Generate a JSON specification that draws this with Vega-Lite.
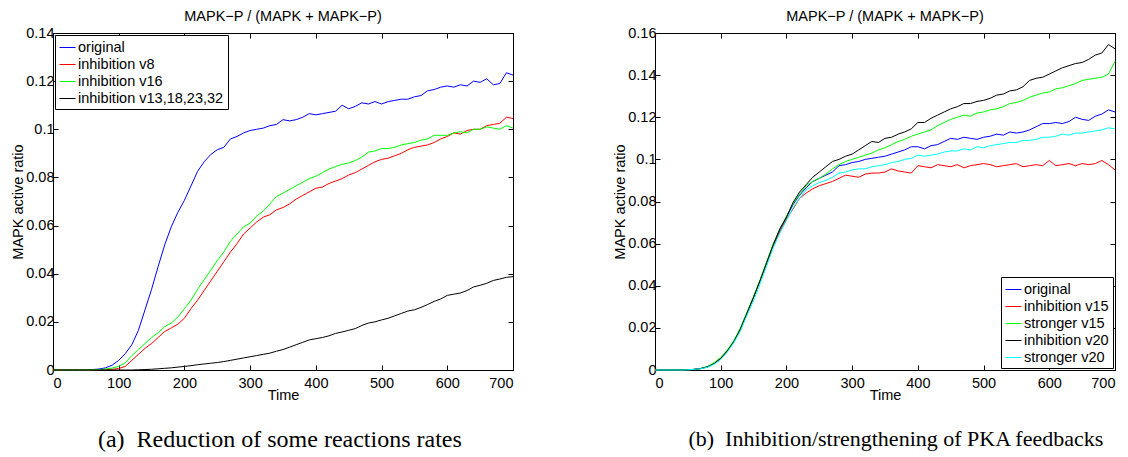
{
"$schema": "https://vega.github.io/schema/vega-lite/v6.json",
"background": "white",
"padding": {"left": 10, "top": 8, "right": 0, "bottom": 0},
"spacing": 96,
"resolve": {"scale": {"color": "independent"}, "legend": {"color": "independent"}},
"datasets": {
"a": [
{"s":"original","t":0,"v":0},{"s":"original","t":10,"v":0},{"s":"original","t":20,"v":0},{"s":"original","t":30,"v":0},{"s":"original","t":40,"v":0},{"s":"original","t":50,"v":0.0001},{"s":"original","t":60,"v":0.0002},{"s":"original","t":70,"v":0.0004},{"s":"original","t":80,"v":0.0009},{"s":"original","t":90,"v":0.002},{"s":"original","t":100,"v":0.004},{"s":"original","t":110,"v":0.0068},{"s":"original","t":120,"v":0.0105},{"s":"original","t":130,"v":0.0165},{"s":"original","t":140,"v":0.025},{"s":"original","t":150,"v":0.0335},{"s":"original","t":160,"v":0.043},{"s":"original","t":170,"v":0.052},{"s":"original","t":180,"v":0.0595},{"s":"original","t":190,"v":0.0655},{"s":"original","t":200,"v":0.0705},{"s":"original","t":210,"v":0.0765},{"s":"original","t":220,"v":0.0825},{"s":"original","t":230,"v":0.0865},{"s":"original","t":240,"v":0.0895},{"s":"original","t":250,"v":0.0915},{"s":"original","t":260,"v":0.0925},{"s":"original","t":270,"v":0.096},{"s":"original","t":280,"v":0.097},{"s":"original","t":290,"v":0.0985},{"s":"original","t":300,"v":0.0995},{"s":"original","t":310,"v":0.1},{"s":"original","t":320,"v":0.1005},{"s":"original","t":330,"v":0.1015},{"s":"original","t":340,"v":0.102},{"s":"original","t":350,"v":0.104},{"s":"original","t":360,"v":0.1035},{"s":"original","t":370,"v":0.104},{"s":"original","t":380,"v":0.105},{"s":"original","t":390,"v":0.1065},{"s":"original","t":400,"v":0.106},{"s":"original","t":410,"v":0.1065},{"s":"original","t":420,"v":0.107},{"s":"original","t":430,"v":0.1075},{"s":"original","t":440,"v":0.11},{"s":"original","t":450,"v":0.1085},{"s":"original","t":460,"v":0.1095},{"s":"original","t":470,"v":0.111},{"s":"original","t":480,"v":0.1105},{"s":"original","t":490,"v":0.1115},{"s":"original","t":500,"v":0.1105},{"s":"original","t":510,"v":0.1115},{"s":"original","t":520,"v":0.112},{"s":"original","t":530,"v":0.1125},{"s":"original","t":540,"v":0.1125},{"s":"original","t":550,"v":0.1135},{"s":"original","t":560,"v":0.114},{"s":"original","t":570,"v":0.116},{"s":"original","t":580,"v":0.1165},{"s":"original","t":590,"v":0.1175},{"s":"original","t":600,"v":0.118},{"s":"original","t":610,"v":0.1175},{"s":"original","t":620,"v":0.1185},{"s":"original","t":630,"v":0.118},{"s":"original","t":640,"v":0.12},{"s":"original","t":650,"v":0.1195},{"s":"original","t":660,"v":0.121},{"s":"original","t":670,"v":0.1185},{"s":"original","t":680,"v":0.119},{"s":"original","t":690,"v":0.1235},{"s":"original","t":700,"v":0.1225},
{"s":"inhibition v8","t":0,"v":0},{"s":"inhibition v8","t":10,"v":0},{"s":"inhibition v8","t":20,"v":0},{"s":"inhibition v8","t":30,"v":0},{"s":"inhibition v8","t":40,"v":0},{"s":"inhibition v8","t":50,"v":0},{"s":"inhibition v8","t":60,"v":0},{"s":"inhibition v8","t":70,"v":0.0001},{"s":"inhibition v8","t":80,"v":0.0002},{"s":"inhibition v8","t":90,"v":0.0003},{"s":"inhibition v8","t":100,"v":0.0006},{"s":"inhibition v8","t":110,"v":0.0015},{"s":"inhibition v8","t":120,"v":0.004},{"s":"inhibition v8","t":130,"v":0.0065},{"s":"inhibition v8","t":140,"v":0.009},{"s":"inhibition v8","t":150,"v":0.011},{"s":"inhibition v8","t":160,"v":0.0135},{"s":"inhibition v8","t":170,"v":0.016},{"s":"inhibition v8","t":180,"v":0.0175},{"s":"inhibition v8","t":190,"v":0.019},{"s":"inhibition v8","t":200,"v":0.0215},{"s":"inhibition v8","t":210,"v":0.0255},{"s":"inhibition v8","t":220,"v":0.029},{"s":"inhibition v8","t":230,"v":0.033},{"s":"inhibition v8","t":240,"v":0.037},{"s":"inhibition v8","t":250,"v":0.041},{"s":"inhibition v8","t":260,"v":0.045},{"s":"inhibition v8","t":270,"v":0.049},{"s":"inhibition v8","t":280,"v":0.0525},{"s":"inhibition v8","t":290,"v":0.0565},{"s":"inhibition v8","t":300,"v":0.059},{"s":"inhibition v8","t":310,"v":0.0615},{"s":"inhibition v8","t":320,"v":0.0635},{"s":"inhibition v8","t":330,"v":0.0645},{"s":"inhibition v8","t":340,"v":0.0665},{"s":"inhibition v8","t":350,"v":0.0675},{"s":"inhibition v8","t":360,"v":0.069},{"s":"inhibition v8","t":370,"v":0.071},{"s":"inhibition v8","t":380,"v":0.0725},{"s":"inhibition v8","t":390,"v":0.074},{"s":"inhibition v8","t":400,"v":0.0755},{"s":"inhibition v8","t":410,"v":0.076},{"s":"inhibition v8","t":420,"v":0.0775},{"s":"inhibition v8","t":430,"v":0.0785},{"s":"inhibition v8","t":440,"v":0.0795},{"s":"inhibition v8","t":450,"v":0.081},{"s":"inhibition v8","t":460,"v":0.082},{"s":"inhibition v8","t":470,"v":0.0835},{"s":"inhibition v8","t":480,"v":0.085},{"s":"inhibition v8","t":490,"v":0.0865},{"s":"inhibition v8","t":500,"v":0.0875},{"s":"inhibition v8","t":510,"v":0.088},{"s":"inhibition v8","t":520,"v":0.089},{"s":"inhibition v8","t":530,"v":0.09},{"s":"inhibition v8","t":540,"v":0.0915},{"s":"inhibition v8","t":550,"v":0.0925},{"s":"inhibition v8","t":560,"v":0.093},{"s":"inhibition v8","t":570,"v":0.0935},{"s":"inhibition v8","t":580,"v":0.0945},{"s":"inhibition v8","t":590,"v":0.096},{"s":"inhibition v8","t":600,"v":0.097},{"s":"inhibition v8","t":610,"v":0.0985},{"s":"inhibition v8","t":620,"v":0.098},{"s":"inhibition v8","t":630,"v":0.0995},{"s":"inhibition v8","t":640,"v":0.1},{"s":"inhibition v8","t":650,"v":0.1},{"s":"inhibition v8","t":660,"v":0.1015},{"s":"inhibition v8","t":670,"v":0.102},{"s":"inhibition v8","t":680,"v":0.1025},{"s":"inhibition v8","t":690,"v":0.105},{"s":"inhibition v8","t":700,"v":0.1045},
{"s":"inhibition v16","t":0,"v":0},{"s":"inhibition v16","t":10,"v":0},{"s":"inhibition v16","t":20,"v":0},{"s":"inhibition v16","t":30,"v":0},{"s":"inhibition v16","t":40,"v":0},{"s":"inhibition v16","t":50,"v":0},{"s":"inhibition v16","t":60,"v":0.0001},{"s":"inhibition v16","t":70,"v":0.0002},{"s":"inhibition v16","t":80,"v":0.0004},{"s":"inhibition v16","t":90,"v":0.0008},{"s":"inhibition v16","t":100,"v":0.0015},{"s":"inhibition v16","t":110,"v":0.003},{"s":"inhibition v16","t":120,"v":0.006},{"s":"inhibition v16","t":130,"v":0.0085},{"s":"inhibition v16","t":140,"v":0.011},{"s":"inhibition v16","t":150,"v":0.0135},{"s":"inhibition v16","t":160,"v":0.0155},{"s":"inhibition v16","t":170,"v":0.018},{"s":"inhibition v16","t":180,"v":0.0195},{"s":"inhibition v16","t":190,"v":0.022},{"s":"inhibition v16","t":200,"v":0.0255},{"s":"inhibition v16","t":210,"v":0.029},{"s":"inhibition v16","t":220,"v":0.0335},{"s":"inhibition v16","t":230,"v":0.0375},{"s":"inhibition v16","t":240,"v":0.0415},{"s":"inhibition v16","t":250,"v":0.0455},{"s":"inhibition v16","t":260,"v":0.049},{"s":"inhibition v16","t":270,"v":0.0535},{"s":"inhibition v16","t":280,"v":0.0565},{"s":"inhibition v16","t":290,"v":0.0595},{"s":"inhibition v16","t":300,"v":0.061},{"s":"inhibition v16","t":310,"v":0.064},{"s":"inhibition v16","t":320,"v":0.066},{"s":"inhibition v16","t":330,"v":0.069},{"s":"inhibition v16","t":340,"v":0.072},{"s":"inhibition v16","t":350,"v":0.0735},{"s":"inhibition v16","t":360,"v":0.075},{"s":"inhibition v16","t":370,"v":0.0765},{"s":"inhibition v16","t":380,"v":0.078},{"s":"inhibition v16","t":390,"v":0.0795},{"s":"inhibition v16","t":400,"v":0.0805},{"s":"inhibition v16","t":410,"v":0.082},{"s":"inhibition v16","t":420,"v":0.0835},{"s":"inhibition v16","t":430,"v":0.0845},{"s":"inhibition v16","t":440,"v":0.0855},{"s":"inhibition v16","t":450,"v":0.086},{"s":"inhibition v16","t":460,"v":0.087},{"s":"inhibition v16","t":470,"v":0.0885},{"s":"inhibition v16","t":480,"v":0.0905},{"s":"inhibition v16","t":490,"v":0.091},{"s":"inhibition v16","t":500,"v":0.092},{"s":"inhibition v16","t":510,"v":0.092},{"s":"inhibition v16","t":520,"v":0.0925},{"s":"inhibition v16","t":530,"v":0.0935},{"s":"inhibition v16","t":540,"v":0.094},{"s":"inhibition v16","t":550,"v":0.0945},{"s":"inhibition v16","t":560,"v":0.0955},{"s":"inhibition v16","t":570,"v":0.096},{"s":"inhibition v16","t":580,"v":0.0975},{"s":"inhibition v16","t":590,"v":0.0975},{"s":"inhibition v16","t":600,"v":0.0975},{"s":"inhibition v16","t":610,"v":0.0985},{"s":"inhibition v16","t":620,"v":0.099},{"s":"inhibition v16","t":630,"v":0.0985},{"s":"inhibition v16","t":640,"v":0.1},{"s":"inhibition v16","t":650,"v":0.1},{"s":"inhibition v16","t":660,"v":0.101},{"s":"inhibition v16","t":670,"v":0.1005},{"s":"inhibition v16","t":680,"v":0.1},{"s":"inhibition v16","t":690,"v":0.1015},{"s":"inhibition v16","t":700,"v":0.1005},
{"s":"inhibition v13,18,23,32","t":0,"v":0},{"s":"inhibition v13,18,23,32","t":10,"v":0},{"s":"inhibition v13,18,23,32","t":20,"v":0},{"s":"inhibition v13,18,23,32","t":30,"v":0},{"s":"inhibition v13,18,23,32","t":40,"v":0},{"s":"inhibition v13,18,23,32","t":50,"v":0},{"s":"inhibition v13,18,23,32","t":60,"v":0},{"s":"inhibition v13,18,23,32","t":70,"v":0},{"s":"inhibition v13,18,23,32","t":80,"v":0},{"s":"inhibition v13,18,23,32","t":90,"v":0},{"s":"inhibition v13,18,23,32","t":100,"v":0},{"s":"inhibition v13,18,23,32","t":110,"v":0},{"s":"inhibition v13,18,23,32","t":120,"v":0},{"s":"inhibition v13,18,23,32","t":130,"v":0.0001},{"s":"inhibition v13,18,23,32","t":140,"v":0.0002},{"s":"inhibition v13,18,23,32","t":150,"v":0.0003},{"s":"inhibition v13,18,23,32","t":160,"v":0.0005},{"s":"inhibition v13,18,23,32","t":170,"v":0.0007},{"s":"inhibition v13,18,23,32","t":180,"v":0.0009},{"s":"inhibition v13,18,23,32","t":190,"v":0.0012},{"s":"inhibition v13,18,23,32","t":200,"v":0.0015},{"s":"inhibition v13,18,23,32","t":210,"v":0.0018},{"s":"inhibition v13,18,23,32","t":220,"v":0.0022},{"s":"inhibition v13,18,23,32","t":230,"v":0.0025},{"s":"inhibition v13,18,23,32","t":240,"v":0.0028},{"s":"inhibition v13,18,23,32","t":250,"v":0.0031},{"s":"inhibition v13,18,23,32","t":260,"v":0.0035},{"s":"inhibition v13,18,23,32","t":270,"v":0.004},{"s":"inhibition v13,18,23,32","t":280,"v":0.0045},{"s":"inhibition v13,18,23,32","t":290,"v":0.005},{"s":"inhibition v13,18,23,32","t":300,"v":0.0055},{"s":"inhibition v13,18,23,32","t":310,"v":0.006},{"s":"inhibition v13,18,23,32","t":320,"v":0.0065},{"s":"inhibition v13,18,23,32","t":330,"v":0.007},{"s":"inhibition v13,18,23,32","t":340,"v":0.0078},{"s":"inhibition v13,18,23,32","t":350,"v":0.0085},{"s":"inhibition v13,18,23,32","t":360,"v":0.0095},{"s":"inhibition v13,18,23,32","t":370,"v":0.0105},{"s":"inhibition v13,18,23,32","t":380,"v":0.0115},{"s":"inhibition v13,18,23,32","t":390,"v":0.0125},{"s":"inhibition v13,18,23,32","t":400,"v":0.013},{"s":"inhibition v13,18,23,32","t":410,"v":0.0135},{"s":"inhibition v13,18,23,32","t":420,"v":0.0142},{"s":"inhibition v13,18,23,32","t":430,"v":0.0152},{"s":"inhibition v13,18,23,32","t":440,"v":0.0158},{"s":"inhibition v13,18,23,32","t":450,"v":0.0165},{"s":"inhibition v13,18,23,32","t":460,"v":0.0172},{"s":"inhibition v13,18,23,32","t":470,"v":0.0185},{"s":"inhibition v13,18,23,32","t":480,"v":0.0195},{"s":"inhibition v13,18,23,32","t":490,"v":0.02},{"s":"inhibition v13,18,23,32","t":500,"v":0.0208},{"s":"inhibition v13,18,23,32","t":510,"v":0.0215},{"s":"inhibition v13,18,23,32","t":520,"v":0.0225},{"s":"inhibition v13,18,23,32","t":530,"v":0.0235},{"s":"inhibition v13,18,23,32","t":540,"v":0.0245},{"s":"inhibition v13,18,23,32","t":550,"v":0.025},{"s":"inhibition v13,18,23,32","t":560,"v":0.026},{"s":"inhibition v13,18,23,32","t":570,"v":0.0272},{"s":"inhibition v13,18,23,32","t":580,"v":0.0285},{"s":"inhibition v13,18,23,32","t":590,"v":0.0295},{"s":"inhibition v13,18,23,32","t":600,"v":0.031},{"s":"inhibition v13,18,23,32","t":610,"v":0.0315},{"s":"inhibition v13,18,23,32","t":620,"v":0.032},{"s":"inhibition v13,18,23,32","t":630,"v":0.033},{"s":"inhibition v13,18,23,32","t":640,"v":0.0345},{"s":"inhibition v13,18,23,32","t":650,"v":0.0352},{"s":"inhibition v13,18,23,32","t":660,"v":0.036},{"s":"inhibition v13,18,23,32","t":670,"v":0.0372},{"s":"inhibition v13,18,23,32","t":680,"v":0.0378},{"s":"inhibition v13,18,23,32","t":690,"v":0.0385},{"s":"inhibition v13,18,23,32","t":700,"v":0.0388}
],
"b": [
{"s":"original","t":0,"v":0},{"s":"original","t":10,"v":0},{"s":"original","t":20,"v":0},{"s":"original","t":30,"v":0},{"s":"original","t":40,"v":0},{"s":"original","t":50,"v":0.0001},{"s":"original","t":60,"v":0.0003},{"s":"original","t":70,"v":0.0007},{"s":"original","t":80,"v":0.0015},{"s":"original","t":90,"v":0.003},{"s":"original","t":100,"v":0.0055},{"s":"original","t":110,"v":0.009},{"s":"original","t":120,"v":0.0135},{"s":"original","t":130,"v":0.0195},{"s":"original","t":140,"v":0.027},{"s":"original","t":150,"v":0.0345},{"s":"original","t":160,"v":0.0425},{"s":"original","t":170,"v":0.051},{"s":"original","t":180,"v":0.0595},{"s":"original","t":190,"v":0.0665},{"s":"original","t":200,"v":0.0725},{"s":"original","t":210,"v":0.0785},{"s":"original","t":220,"v":0.083},{"s":"original","t":230,"v":0.0865},{"s":"original","t":240,"v":0.0895},{"s":"original","t":250,"v":0.091},{"s":"original","t":260,"v":0.0925},{"s":"original","t":270,"v":0.094},{"s":"original","t":280,"v":0.097},{"s":"original","t":290,"v":0.0975},{"s":"original","t":300,"v":0.0985},{"s":"original","t":310,"v":0.099},{"s":"original","t":320,"v":0.1},{"s":"original","t":330,"v":0.1005},{"s":"original","t":340,"v":0.101},{"s":"original","t":350,"v":0.1015},{"s":"original","t":360,"v":0.1025},{"s":"original","t":370,"v":0.1035},{"s":"original","t":380,"v":0.1045},{"s":"original","t":390,"v":0.106},{"s":"original","t":400,"v":0.106},{"s":"original","t":410,"v":0.105},{"s":"original","t":420,"v":0.1065},{"s":"original","t":430,"v":0.107},{"s":"original","t":440,"v":0.1085},{"s":"original","t":450,"v":0.11},{"s":"original","t":460,"v":0.1095},{"s":"original","t":470,"v":0.1105},{"s":"original","t":480,"v":0.11},{"s":"original","t":490,"v":0.1095},{"s":"original","t":500,"v":0.1105},{"s":"original","t":510,"v":0.111},{"s":"original","t":520,"v":0.112},{"s":"original","t":530,"v":0.1115},{"s":"original","t":540,"v":0.113},{"s":"original","t":550,"v":0.1125},{"s":"original","t":560,"v":0.113},{"s":"original","t":570,"v":0.114},{"s":"original","t":580,"v":0.1155},{"s":"original","t":590,"v":0.117},{"s":"original","t":600,"v":0.117},{"s":"original","t":610,"v":0.1175},{"s":"original","t":620,"v":0.117},{"s":"original","t":630,"v":0.118},{"s":"original","t":640,"v":0.12},{"s":"original","t":650,"v":0.119},{"s":"original","t":660,"v":0.1185},{"s":"original","t":670,"v":0.1205},{"s":"original","t":680,"v":0.1215},{"s":"original","t":690,"v":0.1235},{"s":"original","t":700,"v":0.1225},
{"s":"inhibition v15","t":0,"v":0},{"s":"inhibition v15","t":10,"v":0},{"s":"inhibition v15","t":20,"v":0},{"s":"inhibition v15","t":30,"v":0},{"s":"inhibition v15","t":40,"v":0},{"s":"inhibition v15","t":50,"v":0.0001},{"s":"inhibition v15","t":60,"v":0.0003},{"s":"inhibition v15","t":70,"v":0.0007},{"s":"inhibition v15","t":80,"v":0.0015},{"s":"inhibition v15","t":90,"v":0.003},{"s":"inhibition v15","t":100,"v":0.0055},{"s":"inhibition v15","t":110,"v":0.009},{"s":"inhibition v15","t":120,"v":0.0135},{"s":"inhibition v15","t":130,"v":0.0195},{"s":"inhibition v15","t":140,"v":0.027},{"s":"inhibition v15","t":150,"v":0.0345},{"s":"inhibition v15","t":160,"v":0.0425},{"s":"inhibition v15","t":170,"v":0.0505},{"s":"inhibition v15","t":180,"v":0.059},{"s":"inhibition v15","t":190,"v":0.0655},{"s":"inhibition v15","t":200,"v":0.0715},{"s":"inhibition v15","t":210,"v":0.0765},{"s":"inhibition v15","t":220,"v":0.0815},{"s":"inhibition v15","t":230,"v":0.084},{"s":"inhibition v15","t":240,"v":0.086},{"s":"inhibition v15","t":250,"v":0.0875},{"s":"inhibition v15","t":260,"v":0.0885},{"s":"inhibition v15","t":270,"v":0.0895},{"s":"inhibition v15","t":280,"v":0.091},{"s":"inhibition v15","t":290,"v":0.0925},{"s":"inhibition v15","t":300,"v":0.092},{"s":"inhibition v15","t":310,"v":0.0915},{"s":"inhibition v15","t":320,"v":0.093},{"s":"inhibition v15","t":330,"v":0.0935},{"s":"inhibition v15","t":340,"v":0.0935},{"s":"inhibition v15","t":350,"v":0.094},{"s":"inhibition v15","t":360,"v":0.0955},{"s":"inhibition v15","t":370,"v":0.0945},{"s":"inhibition v15","t":380,"v":0.094},{"s":"inhibition v15","t":390,"v":0.0935},{"s":"inhibition v15","t":400,"v":0.097},{"s":"inhibition v15","t":410,"v":0.0965},{"s":"inhibition v15","t":420,"v":0.096},{"s":"inhibition v15","t":430,"v":0.0975},{"s":"inhibition v15","t":440,"v":0.097},{"s":"inhibition v15","t":450,"v":0.0965},{"s":"inhibition v15","t":460,"v":0.0975},{"s":"inhibition v15","t":470,"v":0.096},{"s":"inhibition v15","t":480,"v":0.097},{"s":"inhibition v15","t":490,"v":0.0975},{"s":"inhibition v15","t":500,"v":0.098},{"s":"inhibition v15","t":510,"v":0.0975},{"s":"inhibition v15","t":520,"v":0.0965},{"s":"inhibition v15","t":530,"v":0.097},{"s":"inhibition v15","t":540,"v":0.0975},{"s":"inhibition v15","t":550,"v":0.098},{"s":"inhibition v15","t":560,"v":0.0965},{"s":"inhibition v15","t":570,"v":0.097},{"s":"inhibition v15","t":580,"v":0.0975},{"s":"inhibition v15","t":590,"v":0.097},{"s":"inhibition v15","t":600,"v":0.0995},{"s":"inhibition v15","t":610,"v":0.097},{"s":"inhibition v15","t":620,"v":0.0975},{"s":"inhibition v15","t":630,"v":0.098},{"s":"inhibition v15","t":640,"v":0.097},{"s":"inhibition v15","t":650,"v":0.098},{"s":"inhibition v15","t":660,"v":0.0975},{"s":"inhibition v15","t":670,"v":0.098},{"s":"inhibition v15","t":680,"v":0.0995},{"s":"inhibition v15","t":690,"v":0.0975},{"s":"inhibition v15","t":700,"v":0.095},
{"s":"stronger v15","t":0,"v":0},{"s":"stronger v15","t":10,"v":0},{"s":"stronger v15","t":20,"v":0},{"s":"stronger v15","t":30,"v":0},{"s":"stronger v15","t":40,"v":0},{"s":"stronger v15","t":50,"v":0.0001},{"s":"stronger v15","t":60,"v":0.0003},{"s":"stronger v15","t":70,"v":0.0008},{"s":"stronger v15","t":80,"v":0.0017},{"s":"stronger v15","t":90,"v":0.0035},{"s":"stronger v15","t":100,"v":0.006},{"s":"stronger v15","t":110,"v":0.0095},{"s":"stronger v15","t":120,"v":0.014},{"s":"stronger v15","t":130,"v":0.02},{"s":"stronger v15","t":140,"v":0.0275},{"s":"stronger v15","t":150,"v":0.035},{"s":"stronger v15","t":160,"v":0.043},{"s":"stronger v15","t":170,"v":0.0515},{"s":"stronger v15","t":180,"v":0.06},{"s":"stronger v15","t":190,"v":0.067},{"s":"stronger v15","t":200,"v":0.073},{"s":"stronger v15","t":210,"v":0.079},{"s":"stronger v15","t":220,"v":0.0835},{"s":"stronger v15","t":230,"v":0.0875},{"s":"stronger v15","t":240,"v":0.0895},{"s":"stronger v15","t":250,"v":0.091},{"s":"stronger v15","t":260,"v":0.093},{"s":"stronger v15","t":270,"v":0.0955},{"s":"stronger v15","t":280,"v":0.0975},{"s":"stronger v15","t":290,"v":0.099},{"s":"stronger v15","t":300,"v":0.1},{"s":"stronger v15","t":310,"v":0.101},{"s":"stronger v15","t":320,"v":0.102},{"s":"stronger v15","t":330,"v":0.103},{"s":"stronger v15","t":340,"v":0.1045},{"s":"stronger v15","t":350,"v":0.1055},{"s":"stronger v15","t":360,"v":0.107},{"s":"stronger v15","t":370,"v":0.1085},{"s":"stronger v15","t":380,"v":0.1095},{"s":"stronger v15","t":390,"v":0.111},{"s":"stronger v15","t":400,"v":0.112},{"s":"stronger v15","t":410,"v":0.113},{"s":"stronger v15","t":420,"v":0.114},{"s":"stronger v15","t":430,"v":0.116},{"s":"stronger v15","t":440,"v":0.1175},{"s":"stronger v15","t":450,"v":0.119},{"s":"stronger v15","t":460,"v":0.12},{"s":"stronger v15","t":470,"v":0.121},{"s":"stronger v15","t":480,"v":0.1205},{"s":"stronger v15","t":490,"v":0.122},{"s":"stronger v15","t":500,"v":0.1225},{"s":"stronger v15","t":510,"v":0.1235},{"s":"stronger v15","t":520,"v":0.124},{"s":"stronger v15","t":530,"v":0.125},{"s":"stronger v15","t":540,"v":0.1265},{"s":"stronger v15","t":550,"v":0.127},{"s":"stronger v15","t":560,"v":0.128},{"s":"stronger v15","t":570,"v":0.1295},{"s":"stronger v15","t":580,"v":0.1305},{"s":"stronger v15","t":590,"v":0.1315},{"s":"stronger v15","t":600,"v":0.132},{"s":"stronger v15","t":610,"v":0.1335},{"s":"stronger v15","t":620,"v":0.134},{"s":"stronger v15","t":630,"v":0.135},{"s":"stronger v15","t":640,"v":0.136},{"s":"stronger v15","t":650,"v":0.1375},{"s":"stronger v15","t":660,"v":0.138},{"s":"stronger v15","t":670,"v":0.1385},{"s":"stronger v15","t":680,"v":0.139},{"s":"stronger v15","t":690,"v":0.1405},{"s":"stronger v15","t":700,"v":0.1465},
{"s":"inhibition v20","t":0,"v":0},{"s":"inhibition v20","t":10,"v":0},{"s":"inhibition v20","t":20,"v":0},{"s":"inhibition v20","t":30,"v":0},{"s":"inhibition v20","t":40,"v":0},{"s":"inhibition v20","t":50,"v":0.0001},{"s":"inhibition v20","t":60,"v":0.0003},{"s":"inhibition v20","t":70,"v":0.0007},{"s":"inhibition v20","t":80,"v":0.0015},{"s":"inhibition v20","t":90,"v":0.003},{"s":"inhibition v20","t":100,"v":0.0055},{"s":"inhibition v20","t":110,"v":0.009},{"s":"inhibition v20","t":120,"v":0.0135},{"s":"inhibition v20","t":130,"v":0.0195},{"s":"inhibition v20","t":140,"v":0.027},{"s":"inhibition v20","t":150,"v":0.0345},{"s":"inhibition v20","t":160,"v":0.0425},{"s":"inhibition v20","t":170,"v":0.051},{"s":"inhibition v20","t":180,"v":0.0595},{"s":"inhibition v20","t":190,"v":0.067},{"s":"inhibition v20","t":200,"v":0.0725},{"s":"inhibition v20","t":210,"v":0.0795},{"s":"inhibition v20","t":220,"v":0.0845},{"s":"inhibition v20","t":230,"v":0.088},{"s":"inhibition v20","t":240,"v":0.0915},{"s":"inhibition v20","t":250,"v":0.094},{"s":"inhibition v20","t":260,"v":0.0965},{"s":"inhibition v20","t":270,"v":0.099},{"s":"inhibition v20","t":280,"v":0.1},{"s":"inhibition v20","t":290,"v":0.1015},{"s":"inhibition v20","t":300,"v":0.1025},{"s":"inhibition v20","t":310,"v":0.1045},{"s":"inhibition v20","t":320,"v":0.1065},{"s":"inhibition v20","t":330,"v":0.1085},{"s":"inhibition v20","t":340,"v":0.108},{"s":"inhibition v20","t":350,"v":0.11},{"s":"inhibition v20","t":360,"v":0.1105},{"s":"inhibition v20","t":370,"v":0.112},{"s":"inhibition v20","t":380,"v":0.113},{"s":"inhibition v20","t":390,"v":0.1145},{"s":"inhibition v20","t":400,"v":0.1175},{"s":"inhibition v20","t":410,"v":0.1175},{"s":"inhibition v20","t":420,"v":0.1195},{"s":"inhibition v20","t":430,"v":0.121},{"s":"inhibition v20","t":440,"v":0.1225},{"s":"inhibition v20","t":450,"v":0.124},{"s":"inhibition v20","t":460,"v":0.125},{"s":"inhibition v20","t":470,"v":0.1265},{"s":"inhibition v20","t":480,"v":0.1265},{"s":"inhibition v20","t":490,"v":0.1275},{"s":"inhibition v20","t":500,"v":0.128},{"s":"inhibition v20","t":510,"v":0.129},{"s":"inhibition v20","t":520,"v":0.1305},{"s":"inhibition v20","t":530,"v":0.131},{"s":"inhibition v20","t":540,"v":0.1325},{"s":"inhibition v20","t":550,"v":0.133},{"s":"inhibition v20","t":560,"v":0.1345},{"s":"inhibition v20","t":570,"v":0.1375},{"s":"inhibition v20","t":580,"v":0.1385},{"s":"inhibition v20","t":590,"v":0.139},{"s":"inhibition v20","t":600,"v":0.1405},{"s":"inhibition v20","t":610,"v":0.142},{"s":"inhibition v20","t":620,"v":0.1435},{"s":"inhibition v20","t":630,"v":0.1445},{"s":"inhibition v20","t":640,"v":0.1455},{"s":"inhibition v20","t":650,"v":0.146},{"s":"inhibition v20","t":660,"v":0.1475},{"s":"inhibition v20","t":670,"v":0.1495},{"s":"inhibition v20","t":680,"v":0.1505},{"s":"inhibition v20","t":690,"v":0.1545},{"s":"inhibition v20","t":700,"v":0.1525},
{"s":"stronger v20","t":0,"v":0},{"s":"stronger v20","t":10,"v":0},{"s":"stronger v20","t":20,"v":0},{"s":"stronger v20","t":30,"v":0},{"s":"stronger v20","t":40,"v":0},{"s":"stronger v20","t":50,"v":0.0001},{"s":"stronger v20","t":60,"v":0.0003},{"s":"stronger v20","t":70,"v":0.0006},{"s":"stronger v20","t":80,"v":0.0013},{"s":"stronger v20","t":90,"v":0.0027},{"s":"stronger v20","t":100,"v":0.005},{"s":"stronger v20","t":110,"v":0.0085},{"s":"stronger v20","t":120,"v":0.013},{"s":"stronger v20","t":130,"v":0.0185},{"s":"stronger v20","t":140,"v":0.026},{"s":"stronger v20","t":150,"v":0.033},{"s":"stronger v20","t":160,"v":0.041},{"s":"stronger v20","t":170,"v":0.0495},{"s":"stronger v20","t":180,"v":0.058},{"s":"stronger v20","t":190,"v":0.065},{"s":"stronger v20","t":200,"v":0.071},{"s":"stronger v20","t":210,"v":0.077},{"s":"stronger v20","t":220,"v":0.0815},{"s":"stronger v20","t":230,"v":0.0855},{"s":"stronger v20","t":240,"v":0.0875},{"s":"stronger v20","t":250,"v":0.089},{"s":"stronger v20","t":260,"v":0.09},{"s":"stronger v20","t":270,"v":0.0915},{"s":"stronger v20","t":280,"v":0.0935},{"s":"stronger v20","t":290,"v":0.094},{"s":"stronger v20","t":300,"v":0.095},{"s":"stronger v20","t":310,"v":0.0955},{"s":"stronger v20","t":320,"v":0.0955},{"s":"stronger v20","t":330,"v":0.0965},{"s":"stronger v20","t":340,"v":0.097},{"s":"stronger v20","t":350,"v":0.0975},{"s":"stronger v20","t":360,"v":0.0985},{"s":"stronger v20","t":370,"v":0.099},{"s":"stronger v20","t":380,"v":0.1},{"s":"stronger v20","t":390,"v":0.1005},{"s":"stronger v20","t":400,"v":0.102},{"s":"stronger v20","t":410,"v":0.1015},{"s":"stronger v20","t":420,"v":0.102},{"s":"stronger v20","t":430,"v":0.1025},{"s":"stronger v20","t":440,"v":0.1035},{"s":"stronger v20","t":450,"v":0.104},{"s":"stronger v20","t":460,"v":0.104},{"s":"stronger v20","t":470,"v":0.105},{"s":"stronger v20","t":480,"v":0.1045},{"s":"stronger v20","t":490,"v":0.106},{"s":"stronger v20","t":500,"v":0.1055},{"s":"stronger v20","t":510,"v":0.1065},{"s":"stronger v20","t":520,"v":0.107},{"s":"stronger v20","t":530,"v":0.1075},{"s":"stronger v20","t":540,"v":0.108},{"s":"stronger v20","t":550,"v":0.108},{"s":"stronger v20","t":560,"v":0.109},{"s":"stronger v20","t":570,"v":0.109},{"s":"stronger v20","t":580,"v":0.1095},{"s":"stronger v20","t":590,"v":0.1105},{"s":"stronger v20","t":600,"v":0.1105},{"s":"stronger v20","t":610,"v":0.111},{"s":"stronger v20","t":620,"v":0.112},{"s":"stronger v20","t":630,"v":0.1115},{"s":"stronger v20","t":640,"v":0.1125},{"s":"stronger v20","t":650,"v":0.1125},{"s":"stronger v20","t":660,"v":0.113},{"s":"stronger v20","t":670,"v":0.1135},{"s":"stronger v20","t":680,"v":0.114},{"s":"stronger v20","t":690,"v":0.115},{"s":"stronger v20","t":700,"v":0.1145}
]
},
"hconcat": [
{
"title": {"text": "(a)\u00a0\u00a0Reduction of some reactions rates", "orient": "bottom", "anchor": "middle", "dx": 17, "font": "Liberation Serif", "fontSize": 24, "fontWeight": "normal", "color": "#000", "offset": 25},
"resolve": {"scale": {"color": "independent"}, "legend": {"color": "independent"}},
"vconcat": [
{
"title": {"text": "MAPK\u2212P / (MAPK + MAPK\u2212P)", "offset": 1},
"width": 460, "height": 337,
"layer": [
{"data": {"name": "a"},
"mark": {"type": "line", "strokeWidth": 1},
"encoding": {
"x": {"field": "t", "type": "quantitative", "scale": {"domain": [0, 700], "nice": false}, "axis": {"values": [0,100,200,300,400,500,600,700], "title": "Time", "labelPadding": 11, "titlePadding": -1}},
"y": {"field": "v", "type": "quantitative", "scale": {"domain": [0, 0.14], "nice": false}, "axis": {"values": [0,0.02,0.04,0.06,0.08,0.1,0.12,0.14], "format": ".2~f", "title": "MAPK active ratio", "labelPadding": 4, "titlePadding": 0}},
"color": {"field": "s", "type": "nominal", "sort": null, "scale": {"domain": ["original","inhibition v8","inhibition v16","inhibition v13,18,23,32"], "range": ["#0000ff","#ff0000","#00ff00","#000000"]}, "legend": {"orient": "top-left", "offset": 2}}
}},
{"data": {"values": [{"t": 0, "v": 0}]},
"mark": {"type": "point", "opacity": 0},
"encoding": {
"x": {"field": "t", "type": "quantitative", "axis": {"orient": "top", "values": [0,100,200,300,400,500,600,700], "labels": false, "title": null}},
"y": {"field": "v", "type": "quantitative", "axis": {"orient": "right", "values": [0,0.02,0.04,0.06,0.08,0.1,0.12,0.14], "labels": false, "title": null}}
}}
],
"resolve": {"axis": {"x": "independent", "y": "independent"}}
}
]
},
{
"title": {"text": "(b)\u00a0\u00a0Inhibition/strengthening of PKA feedbacks", "orient": "bottom", "anchor": "middle", "dx": 31, "font": "Liberation Serif", "fontSize": 22, "fontWeight": "normal", "color": "#000", "offset": 26},
"resolve": {"scale": {"color": "independent"}, "legend": {"color": "independent"}},
"vconcat": [
{
"title": {"text": "MAPK\u2212P / (MAPK + MAPK\u2212P)", "offset": 1},
"width": 460, "height": 337,
"layer": [
{"data": {"name": "b"},
"mark": {"type": "line", "strokeWidth": 1},
"encoding": {
"x": {"field": "t", "type": "quantitative", "scale": {"domain": [0, 700], "nice": false}, "axis": {"values": [0,100,200,300,400,500,600,700], "title": "Time", "labelPadding": 11, "titlePadding": -1}},
"y": {"field": "v", "type": "quantitative", "scale": {"domain": [0, 0.16], "nice": false}, "axis": {"values": [0,0.02,0.04,0.06,0.08,0.1,0.12,0.14,0.16], "format": ".2~f", "title": "MAPK active ratio", "labelPadding": 4, "titlePadding": 0}},
"color": {"field": "s", "type": "nominal", "sort": null, "scale": {"domain": ["original","inhibition v15","stronger v15","inhibition v20","stronger v20"], "range": ["#0000ff","#ff0000","#00ff00","#000000","#00ffff"]}, "legend": {"orient": "bottom-right", "offset": 2}}
}},
{"data": {"values": [{"t": 0, "v": 0}]},
"mark": {"type": "point", "opacity": 0},
"encoding": {
"x": {"field": "t", "type": "quantitative", "axis": {"orient": "top", "values": [0,100,200,300,400,500,600,700], "labels": false, "title": null}},
"y": {"field": "v", "type": "quantitative", "axis": {"orient": "right", "values": [0,0.02,0.04,0.06,0.08,0.1,0.12,0.14,0.16], "labels": false, "title": null}}
}}
],
"resolve": {"axis": {"x": "independent", "y": "independent"}}
}
]
}
],
"config": {
"font": "Liberation Sans",
"view": {"stroke": "#000", "strokeWidth": 1},
"title": {"fontSize": 14.5, "fontWeight": "normal", "color": "#000", "font": "Liberation Sans"},
"axis": {"grid": false, "domainColor": "#000", "tickColor": "#000", "labelColor": "#000", "titleColor": "#000", "labelFontSize": 14.5, "titleFontSize": 14.5, "titleFontWeight": "normal", "tickSize": -5, "labelPadding": 7, "titlePadding": 2, "labelFont": "Liberation Sans", "titleFont": "Liberation Sans"},
"legend": {"title": null, "strokeColor": "#000", "fillColor": "#fff", "padding": 4, "symbolType": "stroke", "symbolSize": 256, "symbolStrokeWidth": 1, "labelFontSize": 14.5, "labelColor": "#000", "labelFont": "Liberation Sans", "rowPadding": 2, "labelOffset": 2, "cornerRadius": 0}
}
}
